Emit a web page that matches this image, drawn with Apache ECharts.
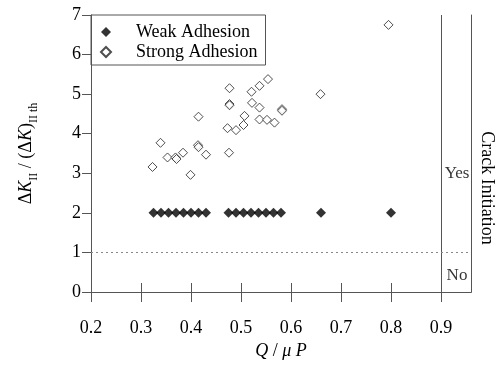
<!DOCTYPE html>
<html>
<head>
<meta charset="utf-8">
<script src="https://cdn.jsdelivr.net/npm/echarts@6/dist/echarts.min.js"></script>
<style>
  html, body { margin: 0; padding: 0; background: #fff; }
  #chart { width: 500px; height: 368px; }
</style>
</head>
<body>
<div id="chart"></div>
<script>
// values (Q/muP vs dK_II/(dK)_II th)
const weakX = [0.325, 0.34, 0.355, 0.37, 0.385, 0.40, 0.415, 0.43,
               0.475, 0.49, 0.505, 0.52, 0.535, 0.55, 0.565, 0.58, 0.66, 0.80];
const weakY = [2, 2, 2, 2, 2, 2, 2, 2, 2, 2, 2, 2, 2, 2, 2, 2, 2, 2];

const strongX = [0.323, 0.339, 0.353, 0.369, 0.371, 0.384, 0.399, 0.414, 0.415, 0.415, 0.43,
                 0.476, 0.473, 0.477, 0.477, 0.477, 0.49, 0.505, 0.507, 0.521, 0.537, 0.554,
                 0.522, 0.537, 0.537, 0.552, 0.567, 0.582, 0.582, 0.659, 0.795];
const strongY = [3.16, 3.77, 3.40, 3.40, 3.36, 3.52, 2.96, 3.71, 3.66, 4.43, 3.47,
                 3.52, 4.14, 4.75, 4.72, 5.15, 4.09, 4.22, 4.45, 5.06, 5.21, 5.38,
                 4.78, 4.66, 4.36, 4.35, 4.28, 4.62, 4.58, 5.00, 6.75];

const xTicks = [0.2, 0.3, 0.4, 0.5, 0.6, 0.7, 0.8, 0.9];
const xMin = 0.2, xMax = 0.96;
const yMin = 0, yMax = 7;
const thresholdY = 1;      // dotted line
const zoneX = 0.9;         // solid divider
const zoneNames = ["Yes", "No"];
const zoneX_pos = [0.932, 0.932];
const zoneY_pos = [3.0, 0.42];

const serif = "'Liberation Serif', 'Times New Roman', Times, serif";
const lineColor = "#555";

const chart = echarts.init(document.getElementById("chart"));

const tickStyle = { show: true, inside: false, length: 9, lineStyle: { color: lineColor } };

chart.setOption({
  animation: false,
  backgroundColor: "#fff",
  textStyle: { fontFamily: serif, color: "#000" },
  grid: { left: 91, right: 29, top: 15, bottom: 76 },
  legend: {
    data: ["Weak Adhesion", "Strong Adhesion"],
    orient: "vertical",
    left: 91, top: 15,
    padding: [8, 8, 4, 9],
    itemWidth: 10, itemHeight: 10, itemGap: 2,
    borderColor: lineColor, borderWidth: 1,
    textStyle: { fontFamily: serif, fontSize: 18, color: "#000", padding: [0, 0, 0, 20] },
  },
  xAxis: [
    {
      type: "value", position: "bottom", min: xMin, max: xMax,
      name: "{i|Q} / {i|\u03bc P}", nameLocation: "middle", nameGap: 44,
      nameTextStyle: { fontFamily: serif, fontSize: 18, color: "#000",
        rich: { i: { fontFamily: serif, fontSize: 18, fontStyle: "italic", color: "#000" } } },
      axisLine: { lineStyle: { color: lineColor } },
      axisTick: Object.assign({}, tickStyle, { length: 10, customValues: xTicks }),
      axisLabel: { customValues: xTicks, margin: 27, fontFamily: serif, fontSize: 18, color: "#000",
                   formatter: v => v.toFixed(1) },
      splitLine: { show: false },
    },
    {
      type: "value", position: "top", min: xMin, max: xMax,
      axisLine: { lineStyle: { color: lineColor } },
      axisTick: Object.assign({}, tickStyle, { customValues: xTicks }),
      axisLabel: { show: false },
      splitLine: { show: false },
    },
  ],
  yAxis: [
    {
      type: "value", min: yMin, max: yMax, interval: 1,
      name: "{d|\u0394}{k|K}{s|II}{n| / (}{d|\u0394}{k|K}{n|)}{s|II th}",
      nameLocation: "middle", nameRotate: 90, nameGap: 54,
      nameTextStyle: {
        fontFamily: serif, fontSize: 18, color: "#000",
        rich: {
          n: { fontFamily: serif, fontSize: 18, color: "#000", lineHeight: 20, verticalAlign: "top" },
          d: { fontFamily: serif, fontSize: 18, color: "#000", lineHeight: 20, verticalAlign: "top" },
          k: { fontFamily: serif, fontSize: 18, fontStyle: "italic", color: "#000", lineHeight: 20, verticalAlign: "top" },
          s: { fontFamily: serif, fontSize: 12, color: "#000", lineHeight: 12, verticalAlign: "top", padding: [11, 0, 0, 0] },
        },
      },
      axisLine: { show: true, lineStyle: { color: lineColor } },
      axisTick: tickStyle,
      axisLabel: { margin: 10, fontFamily: serif, fontSize: 18, color: "#000" },
      splitLine: { show: false },
    },
    {
      type: "value", position: "right", min: yMin, max: yMax, interval: 1,
      axisLine: { show: true, lineStyle: { color: lineColor } },
      axisTick: { show: false }, axisLabel: { show: false }, splitLine: { show: false },
    },
  ],
  graphic: [
    {
      type: "text", x: 487, y: 188, rotation: -Math.PI / 2,
      style: { text: "Crack Initiation", fontFamily: serif, fontSize: 18, fill: "#000",
               align: "center", verticalAlign: "middle" },
    },
  ],
  series: [
    {
      name: "Weak Adhesion", type: "scatter", symbol: "diamond", symbolSize: 10,
      itemStyle: { color: "#000" },
      data: weakX.map((x, i) => [x, weakY[i]]),
      z: 3,
    },
    {
      name: "Strong Adhesion", type: "scatter", symbol: "diamond", symbolSize: 9,
      itemStyle: { color: "#fff", borderColor: "#222", borderWidth: 1 },
      data: strongX.map((x, i) => [x, strongY[i]]),
      z: 4,
      markLine: {
        silent: true, symbol: ["none", "none"], label: { show: false },
        data: [
          { xAxis: zoneX, lineStyle: { color: lineColor, type: "solid", width: 1 } },
          { yAxis: thresholdY, lineStyle: { color: "#888", type: [2, 3], width: 1 } },
        ],
      },
    },
    {
      name: "zones", type: "scatter", symbol: "circle", symbolSize: 1,
      itemStyle: { color: "rgba(0,0,0,0)" }, silent: true,
      label: { show: true, position: "inside", formatter: p => p.name,
               fontFamily: serif, fontSize: 17, color: "#000" },
      data: zoneNames.map((n, i) => ({ name: n, value: [zoneX_pos[i], zoneY_pos[i]] })),
    },
  ],
});
</script>
</body>
</html>
